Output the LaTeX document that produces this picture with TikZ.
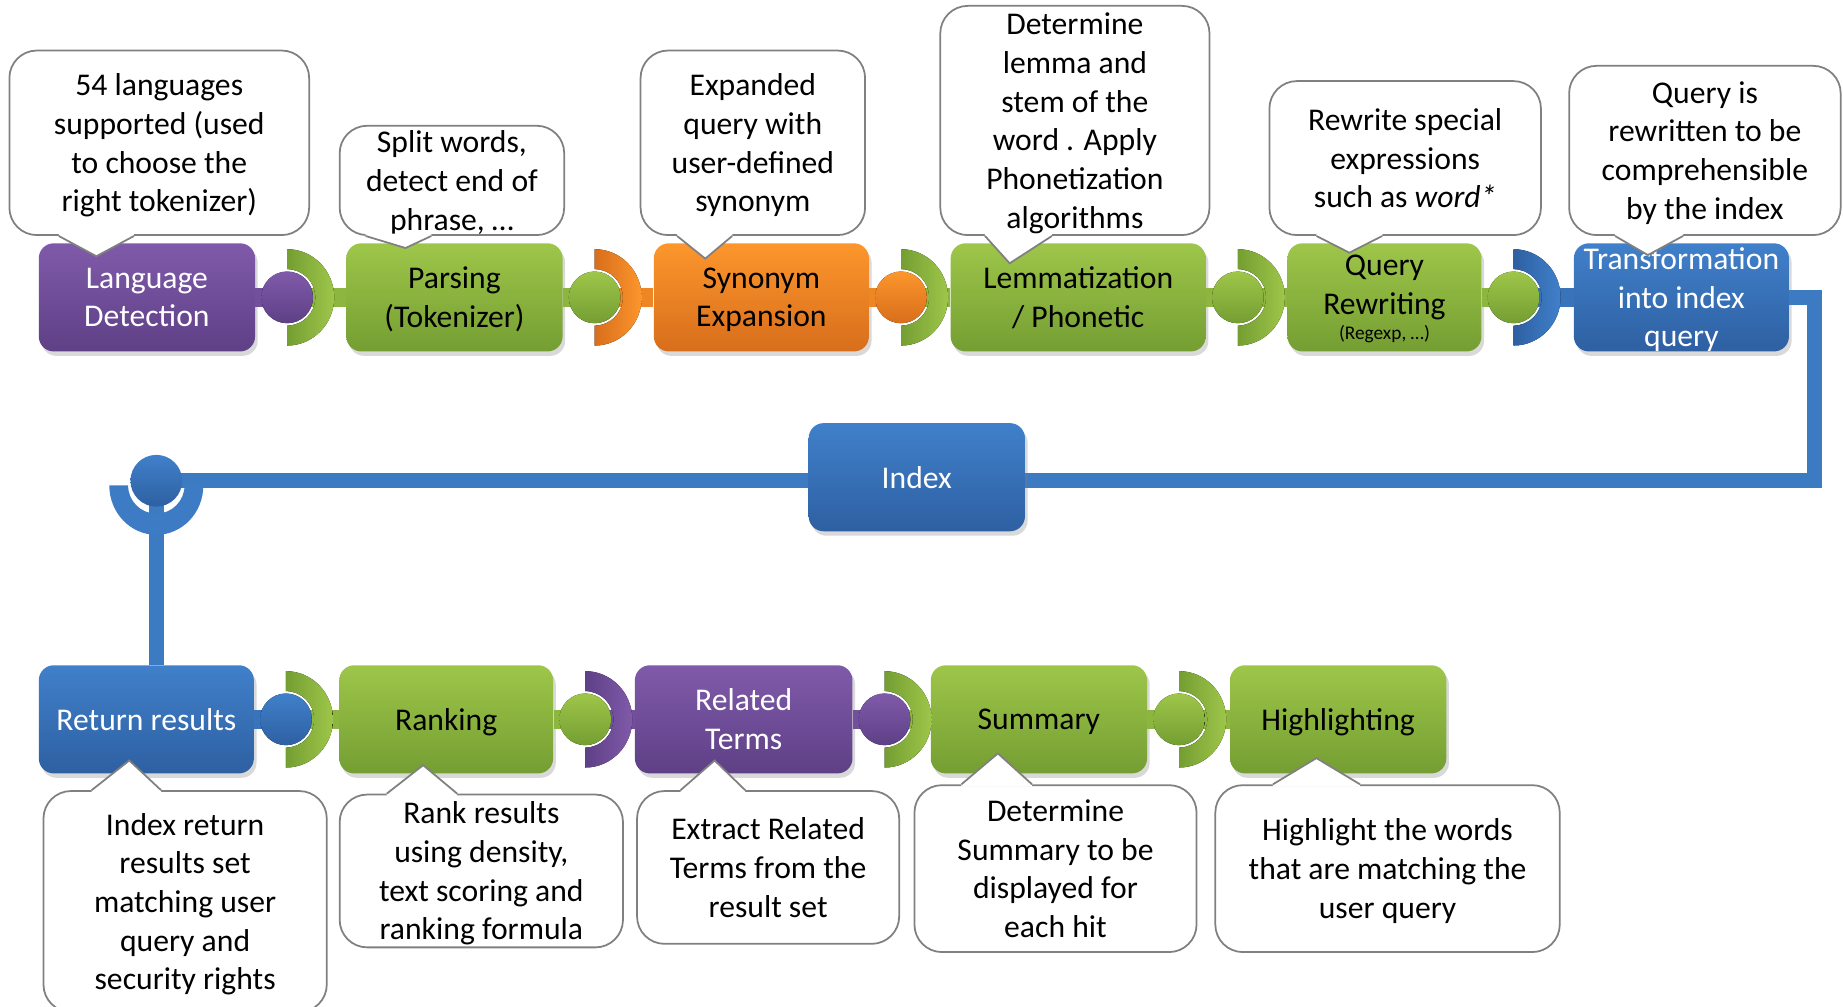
\documentclass[tikz,border=0pt]{standalone}
\usepackage{fontspec}
\setmainfont{Carlito}
\usetikzlibrary{positioning,calc,shadows}

\definecolor{lpurple}{RGB}{128,90,170}
\definecolor{dpurple}{RGB}{94,64,134}
\definecolor{lgreen}{RGB}{158,198,74}
\definecolor{dgreen}{RGB}{116,158,50}
\definecolor{lorange}{RGB}{252,150,44}
\definecolor{dorange}{RGB}{216,110,28}
\definecolor{lblue}{RGB}{64,128,202}
\definecolor{dblue}{RGB}{46,96,162}
\definecolor{notegray}{RGB}{128,128,128}

\newcommand\boxfont{\fontsize{18}{22}\selectfont}
\newcommand\notefont{\fontsize{18}{22}\selectfont}

\tikzset{
stage/.style={rectangle,rounded corners=0.3cm,minimum height=2.162cm,inner sep=0pt,
  align=center,font=\boxfont,text depth=0pt,
  drop shadow={opacity=0.3,shadow xshift=1.5pt,shadow yshift=-2.5pt}},
purplebox/.style={stage,top color=lpurple,bottom color=dpurple,text=white},
greenbox/.style={stage,top color=lgreen,bottom color=dgreen,text=black},
orangebox/.style={stage,top color=lorange,bottom color=dorange,text=black},
bluebox/.style={stage,top color=lblue,bottom color=dblue,text=white},
note/.style={rectangle,draw=notegray,line width=1pt,fill=white,rounded corners=0.55cm,
  align=center,inner sep=0pt,font=\notefont,text depth=0pt},
notedraw/.style={draw=notegray,line width=1pt},
pipe/.style={draw=lblue!80!dblue,line width=0.3055cm},
stem/.style={line width=0.376cm},
}

\begin{document}
\begin{tikzpicture}[x=0.0235cm,y=-0.0235cm]
	\useasboundingbox (0,0) rectangle (1568,856);

	% query side
	\node[purplebox,minimum width=4.324cm] (lang) at (125,253) {Language\\Detection};
	\node[greenbox,minimum width=4.324cm,right=1.81cm of lang] (pars) {Parsing\\(Tokenizer)};
	\node[orangebox,minimum width=4.30cm,right=1.81cm of pars] (syn) {Synonym\\Expansion};
	\node[greenbox,minimum width=5.10cm,right=1.62cm of syn] (lem) {Lemmatization\\/ Phonetic};
	\node[greenbox,minimum width=3.878cm,right=1.62cm of lem,text depth=-3pt] (rew)
		{Query\\Rewriting\\[-7.5pt]{\fontsize{11}{13}\selectfont (Regexp, …)}};
	\node[bluebox,minimum width=4.30cm,right=1.833cm of rew] (trans) {Transformation\\into index\\query};

	% result side
	\node[bluebox,minimum width=4.30cm] (ret) at (124.5,612) {Return results};
	\node[greenbox,minimum width=4.277cm,right=1.692cm of ret] (rank) {Ranking};
	\node[purplebox,minimum width=4.35cm,right=1.62cm of rank] (rel) {Related\\Terms};
	\node[greenbox,minimum width=4.324cm,right=1.551cm of rel] (summ) {Summary};
	\node[greenbox,minimum width=4.324cm,right=1.645cm of summ] (high) {Highlighting};

	% joints between stages
	\foreach \a/\b/\ca/\cb in {lang/pars/purple/green, pars/syn/green/orange, syn/lem/orange/green,
		lem/rew/green/green, rew/trans/green/blue, ret/rank/blue/green, rank/rel/green/purple,
		rel/summ/purple/green, summ/high/green/green}{
		\coordinate (j) at ($(\a.east)+(27,0)$);
		\draw[stem,draw=l\ca!60!d\ca] (\a.east) -- (j);
		\draw[stem,draw=l\cb!60!d\cb] (j) -- (\b.west);
		\fill[left color=d\cb,right color=l\cb] ($(j)+(0,-41)$)
			arc[start angle=-90,end angle=90,x radius=40,y radius=41] -- ++(0,-17)
			arc[start angle=90,end angle=-90,radius=24] -- cycle;
		\fill[top color=l\ca,bottom color=d\ca] (j) circle[radius=22];
	}

	% index loop
	\coordinate (hubc) at (133,409);
	\coordinate (corner) at (1544,409);
	\draw[pipe] (trans.east) -| (corner) -- (hubc);
	\draw[pipe] (hubc) -- (hubc |- ret.north);
	\node[bluebox,minimum width=4.324cm] (idx) at (780,406) {Index};
	\fill[lblue!85!dblue] ($(hubc)+(-40,4)$)
		arc[start angle=180,end angle=0,x radius=40,y radius=42] -- ++(-16,0)
		arc[start angle=0,end angle=180,radius=24] -- cycle;
	\node[circle,inner sep=0pt,minimum size=1.034cm,top color=lblue,bottom color=dblue] (hub) at (hubc) {};

	% notes above
	\node[note,minimum width=5.993cm,minimum height=3.69cm] (nlang) at (135.5,121.5)
		{54 languages\\supported (used\\to choose the\\right tokenizer)};
	\node[note,minimum width=4.489cm,minimum height=2.186cm] (npars) at (384.5,153.5)
		{Split words,\\detect end of\\phrase, …};
	\node[note,minimum width=4.489cm,minimum height=3.69cm] (nsyn) at (640.5,121.5)
		{Expanded\\query with\\user-defined\\synonym};
	\node[note,minimum width=5.382cm,minimum height=4.583cm] (nlem) at (914.5,102.5)
		{Determine\\lemma and\\stem of the\\word . Apply\\Phonetization\\algorithms};
	\node[note,minimum width=5.429cm,minimum height=3.079cm] (nrew) at (1195.5,134.5)
		{Rewrite special\\expressions\\such as \textit{word*}};
	\node[note,minimum width=5.429cm,minimum height=3.384cm] (ntrans) at (1450.5,128)
		{Query is\\rewritten to be\\comprehensible\\by the index};

	% notes below
	\node[note,minimum width=5.664cm,minimum height=4.418cm] (nret) at (157.5,767)
		{Index return\\results set\\matching user\\query and\\security rights};
	\node[note,minimum width=5.664cm,minimum height=3.055cm] (nrank) at (409.5,741)
		{Rank results\\using density,\\text scoring and\\ranking formula};
	\node[note,minimum width=5.241cm,minimum height=3.055cm] (nrel) at (653.5,738)
		{Extract Related\\Terms from the\\result set};
	\node[note,minimum width=5.64cm,minimum height=3.337cm] (nsumm) at (898,739)
		{Determine\\Summary to be\\displayed for\\each hit};
	\node[note,minimum width=6.886cm,minimum height=3.337cm] (nhigh) at (1180.5,739)
		{Highlight the words\\that are matching the\\user query};

	% pointers
	\foreach \n/\l/\r/\tx/\ty in {nlang/50/114/82/218, npars/311/367/345/211, nsyn/576/623/600/220,
		nlem/838/895/859/224, nrew/1120/1176/1148/215, ntrans/1374/1432/1402/217}{
		\fill[white] ($(\n.south -| \l,0)+(0,-2)$) -- (\n.south -| \l,0) -- (\tx,\ty)
			-- (\n.south -| \r,0) -- ($(\n.south -| \r,0)+(0,-2)$) -- cycle;
		\draw[notedraw] (\n.south -| \l,0) -- (\tx,\ty) -- (\n.south -| \r,0);
	}
	\foreach \n/\l/\r/\tx/\ty in {nret/78/137/110/647, nrank/329/389/360/651, nrel/579/634/608/647,
		nsumm/818/878/849/641, nhigh/1083/1157/1120/645}{
		\fill[white] ($(\n.north -| \l,0)+(0,2)$) -- (\n.north -| \l,0) -- (\tx,\ty)
			-- (\n.north -| \r,0) -- ($(\n.north -| \r,0)+(0,2)$) -- cycle;
		\draw[notedraw] (\n.north -| \l,0) -- (\tx,\ty) -- (\n.north -| \r,0);
	}
\end{tikzpicture}
\end{document}
